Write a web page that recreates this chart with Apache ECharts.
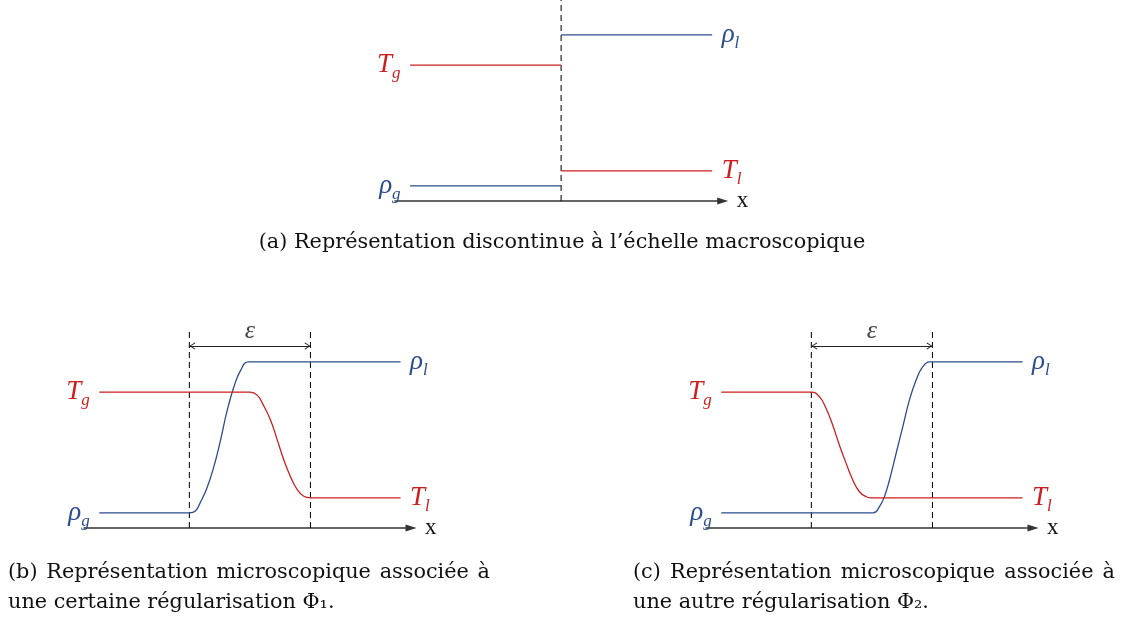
<!DOCTYPE html>
<html>
<head>
<meta charset="utf-8">
<script src="https://cdn.jsdelivr.net/npm/echarts@6/dist/echarts.min.js"></script>
<style>
  html, body { margin: 0; padding: 0; background: #fff; }
  #main { width: 1123px; height: 617px; }
</style>
</head>
<body>
<div id="main"></div>
<script>
// levels (arbitrary units, x axis at 0)
var rhoGas = 0.1, rhoLiq = 1.1;
var tGas = 0.9, tLiq = 0.2;

// (a) sharp interface at x = 0
var macroLeft = [-1, 0];
var macroRight = [0, 1];

// (b) regularisation Phi1 : interface zone between x = 0 and x = 1
var rhoB_x = [-0.744, 0, 0.05, 0.09, 0.146, 0.2, 0.256, 0.311, 0.366, 0.421, 0.49, 1.744];
var rhoB_y = [0.1, 0.1, 0.113, 0.168, 0.267, 0.4, 0.577, 0.775, 0.93, 1.04, 1.1, 1.1];
var tB_x = [-0.744, 0.5, 0.56, 0.61, 0.67, 0.725, 0.78, 0.835, 0.89, 0.945, 1.0, 1.744];
var tB_y = [0.9, 0.9, 0.88, 0.815, 0.715, 0.585, 0.45, 0.34, 0.255, 0.21, 0.2, 0.2];

// (c) regularisation Phi2
var rhoC_x = [-0.744, 0.512, 0.562, 0.603, 0.645, 0.7, 0.755, 0.81, 0.865, 0.92, 0.975, 1.0, 1.744];
var rhoC_y = [0.1, 0.1, 0.141, 0.207, 0.318, 0.495, 0.671, 0.848, 0.98, 1.068, 1.1, 1.1, 1.1];
var tC_x = [-0.744, 0, 0.066, 0.121, 0.176, 0.231, 0.287, 0.342, 0.397, 0.452, 0.49, 1.744];
var tC_y = [0.9, 0.9, 0.87, 0.793, 0.682, 0.55, 0.428, 0.318, 0.24, 0.207, 0.2, 0.2];

var epsBand = [0, 1];
var epsLevel = 1.205;
var dashTopA = 1.331, dashTopBC = 1.305;

var RED = '#cc1f1f';
var BLUE = '#2c4c8e';
var SERIF = '"Liberation Serif", "DejaVu Serif", serif';
var CAPTION_FONT = '20.8px "DejaVu Serif"';

// open arrow head whose tip sits at the symbol centre
var HEAD = 'path://M5,0 L5.01,0 Z M5,10 L10,19 L9,20 L5,12.6 L1,20 L0,19 Z';

function sym(letter, sub, color) {
  return {
    text: '{m|' + letter + '}{s|' + sub + '}',
    rich: {
      m: { fontFamily: SERIF, fontStyle: 'italic', fontSize: 27, color: color, lineHeight: 34 },
      s: { fontFamily: SERIF, fontStyle: 'italic', fontSize: 17, color: color, lineHeight: 16, verticalAlign: 'bottom' }
    }
  };
}

function pts(xs, ys) {
  return xs.map(function (x, i) { return [x, ys[i]]; });
}

function curve(name, xs, ys, color, grid, leftLab, rightLab) {
  var data = pts(xs, ys).map(function (p) { return { value: p }; });
  if (leftLab) {
    var l = sym(leftLab[0], leftLab[1], color);
    data[0].label = { show: true, position: 'left', distance: 9, formatter: l.text, rich: l.rich };
  }
  if (rightLab) {
    var r = sym(rightLab[0], rightLab[1], color);
    data[data.length - 1].label = { show: true, position: 'right', distance: 9, formatter: r.text, rich: r.rich };
  }
  return {
    name: name, type: 'line', xAxisIndex: grid, yAxisIndex: grid,
    data: data, showSymbol: true, showAllSymbol: true, symbol: 'circle', symbolSize: 1,
    itemStyle: { color: 'rgba(0,0,0,0)' },
    smooth: 0.45,
    lineStyle: { color: color, width: 1.3 }, silent: true, z: 3
  };
}

function dashed(grid, x, top, withEps) {
  var s = {
    type: 'line', xAxisIndex: grid, yAxisIndex: grid, symbol: 'none', silent: true, z: 2,
    data: [[x, 0], [x, top]],
    lineStyle: { color: '#111', width: 1.1, type: [6, 4] }
  };
  if (withEps) {
    s.markLine = {
      silent: true, animation: false,
      symbol: [HEAD, HEAD],
      symbolSize: [7, 12],
      lineStyle: { color: '#222', width: 1, type: 'solid' },
      label: { show: true, position: 'middle', distance: 2, formatter: 'ε',
        fontFamily: SERIF, fontStyle: 'italic', fontSize: 26, color: '#444' },
      data: [[{ coord: [epsBand[0], epsLevel] }, { coord: [epsBand[1], epsLevel] }]]
    };
  }
  return s;
}

function xAx(grid, min, max) {
  return {
    gridIndex: grid, type: 'value', min: min, max: max,
    axisLine: { show: true, onZero: false, symbol: ['none', 'triangle'], symbolSize: [7, 11],
      lineStyle: { color: '#333', width: 1.5 } },
    axisTick: { show: false }, axisLabel: { show: false }, splitLine: { show: false },
    name: 'x', nameLocation: 'end', nameGap: 14,
    nameTextStyle: { fontFamily: SERIF, fontSize: 23, color: '#111', verticalAlign: 'middle' }
  };
}

function yAx(grid, max) {
  return { gridIndex: grid, type: 'value', min: 0, max: max, show: false };
}

function caption(text, x, y, align) {
  return { type: 'text', x: x, y: y, silent: true,
    style: { text: text, font: CAPTION_FONT, fill: '#111', align: align, verticalAlign: 'middle' } };
}

// spread the words of a caption line between x0 and x1, like the justified LaTeX caption
var measureCtx = document.createElement('canvas').getContext('2d');
measureCtx.font = CAPTION_FONT;
function justified(line, x0, x1, y) {
  var words = line.split(' ');
  var widths = words.map(function (w) { return measureCtx.measureText(w).width; });
  var total = widths.reduce(function (a, b) { return a + b; }, 0);
  var gap = (x1 - x0 - total) / (words.length - 1);
  var out = [], x = x0;
  words.forEach(function (w, i) { out.push(caption(w, x, y, 'left')); x += widths[i] + gap; });
  return out;
}

var chart = echarts.init(document.getElementById('main'));

var option = {
  backgroundColor: '#fff',
  animation: false,
  grid: [
    { left: 395, top: 0, width: 327.7, height: 201 },
    { left: 84, top: 327, width: 327, height: 201 },
    { left: 706, top: 327, width: 327, height: 201 }
  ],
  xAxis: [xAx(0, -1.1, 1.07), xAx(1, -0.87, 1.83), xAx(2, -0.87, 1.83)],
  yAxis: [yAx(0, dashTopA), yAx(1, dashTopA), yAx(2, dashTopA)],
  series: [
    dashed(0, 0, dashTopA, false),
    curve('rho_g', macroLeft, [rhoGas, rhoGas], BLUE, 0, ['ρ', 'g'], null),
    curve('rho_l', macroRight, [rhoLiq, rhoLiq], BLUE, 0, null, ['ρ', 'l']),
    curve('T_g', macroLeft, [tGas, tGas], RED, 0, ['T', 'g'], null),
    curve('T_l', macroRight, [tLiq, tLiq], RED, 0, null, ['T', 'l']),

    dashed(1, epsBand[0], dashTopBC, true),
    dashed(1, epsBand[1], dashTopBC, false),
    curve('rho', rhoB_x, rhoB_y, BLUE, 1, ['ρ', 'g'], ['ρ', 'l']),
    curve('T', tB_x, tB_y, RED, 1, ['T', 'g'], ['T', 'l']),

    dashed(2, epsBand[0], dashTopBC, true),
    dashed(2, epsBand[1], dashTopBC, false),
    curve('rho', rhoC_x, rhoC_y, BLUE, 2, ['ρ', 'g'], ['ρ', 'l']),
    curve('T', tC_x, tC_y, RED, 2, ['T', 'g'], ['T', 'l'])
  ],
  graphic: [caption('(a) Représentation discontinue à l’échelle macroscopique', 562, 243, 'center')]
    .concat(justified('(b) Représentation microscopique associée à', 8, 490, 573))
    .concat([caption('une certaine régularisation Φ₁.', 8, 603, 'left')])
    .concat(justified('(c) Représentation microscopique associée à', 633, 1115, 573))
    .concat([caption('une autre régularisation Φ₂.', 633, 603, 'left')])
};

chart.setOption(option);
</script>
</body>
</html>
